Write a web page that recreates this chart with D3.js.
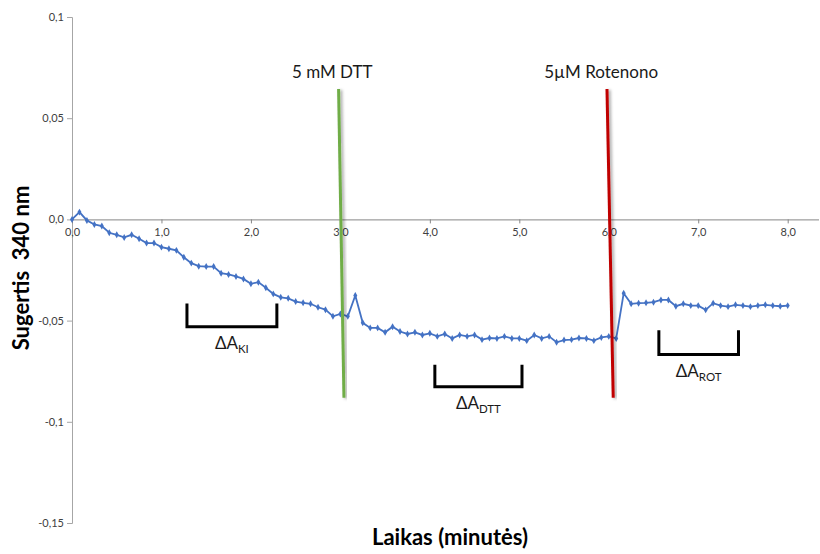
<!DOCTYPE html>
<html>
<head>
<meta charset="utf-8">
<script src="https://cdn.jsdelivr.net/npm/d3@7"></script>
<style>
  html, body { margin: 0; padding: 0; background: #fff; }
  svg text { font-family: Lato, "Open Sans", sans-serif; }
</style>
</head>
<body>
<svg id="chart" width="820" height="554"></svg>
<script>
// Absorbance at 340 nm, one reading every 5 s over 8 minutes
const timeStep = 5 / 60;
const absorbance = [
  0.0000, 0.0036, -0.0005, -0.0025, -0.0033, -0.0066, -0.0076, -0.0089, -0.0076, -0.0096,
  -0.0117, -0.0117, -0.0137, -0.0145, -0.0153, -0.0187, -0.0216, -0.0231, -0.0233, -0.0233,
  -0.0266, -0.0272, -0.0282, -0.0294, -0.0318, -0.0310, -0.0338, -0.0368, -0.0385, -0.0390,
  -0.0406, -0.0412, -0.0417, -0.0434, -0.0446, -0.0479, -0.0467, -0.0479, -0.0376, -0.0511,
  -0.0536, -0.0536, -0.0558, -0.0530, -0.0554, -0.0566, -0.0558, -0.0571, -0.0563, -0.0578,
  -0.0566, -0.0588, -0.0571, -0.0578, -0.0571, -0.0594, -0.0586, -0.0588, -0.0578, -0.0588,
  -0.0588, -0.0599, -0.0571, -0.0588, -0.0578, -0.0607, -0.0596, -0.0594, -0.0586, -0.0588,
  -0.0599, -0.0583, -0.0578, -0.0588, -0.0365, -0.0417, -0.0414, -0.0412, -0.0409, -0.0398,
  -0.0398, -0.0429, -0.0417, -0.0426, -0.0426, -0.0447, -0.0414, -0.0426, -0.0431, -0.0422,
  -0.0426, -0.0431, -0.0426, -0.0422, -0.0426, -0.0429, -0.0426
];
const xTicks = [0, 1, 2, 3, 4, 5, 6, 7, 8];
const yTicks = [0.1, 0.05, 0, -0.05, -0.1, -0.15];

// Reagent additions: label plus the two ends of the marker line (time, value)
const additions = [
  { label: "5 mM DTT",     t0: 2.98, v0: 0.0644, t1: 3.04, v1: -0.0881, color: "#70ad47" },
  { label: "5µM Rotenono", t0: 5.98, v0: 0.0644, t1: 6.05, v1: -0.0881, color: "#c00000" }
];
// Measurement intervals (brackets)
const intervals = [
  { sub: "KI",  t0: 1.285, t1: 2.29, top: -0.0416, bottom: -0.0530 },
  { sub: "DTT", t0: 4.056, t1: 5.03, top: -0.0718, bottom: -0.0827 },
  { sub: "ROT", t0: 6.56,  t1: 7.45, top: -0.0548, bottom: -0.0668 }
];

const svg = d3.select("#chart");
const x = d3.scaleLinear().domain([0, 8.35]).range([72, 819]);
const y = d3.scaleLinear().domain([-0.15, 0.1]).range([523, 17]);
const fmtX = v => v.toFixed(1).replace(".", ",");
const fmtY = v => v === 0 ? "0,0" : String(v).replace(".", ",");

const defs = svg.append("defs");
defs.append("filter").attr("id", "shadow").attr("x", "-50%").attr("y", "-10%").attr("width", "200%").attr("height", "120%")
  .append("feDropShadow").attr("dx", 2).attr("dy", 1).attr("stdDeviation", 1.5)
  .attr("flood-color", "#000").attr("flood-opacity", 0.35);

// Y axis
const yAxis = svg.append("g").attr("transform", `translate(${x(0)},0)`)
  .call(d3.axisLeft(y).tickValues(yTicks).tickSize(5).tickPadding(3).tickFormat(fmtY));
yAxis.select(".domain").attr("stroke", "#a6a6a6");
yAxis.selectAll(".tick line").attr("stroke", "#a6a6a6");
yAxis.selectAll("text").attr("font-size", 11).attr("fill", "#404040");

// X axis along zero
const xAxis = svg.append("g").attr("transform", `translate(0,${y(0)})`)
  .call(d3.axisBottom(x).tickValues(xTicks).tickSize(4).tickPadding(5).tickFormat(fmtX));
xAxis.select(".domain").attr("stroke", "#868686").attr("d", `M${x(0)},0.5H819`);
xAxis.selectAll(".tick line").attr("stroke", "#868686");
xAxis.selectAll("text").attr("font-size", 11).attr("fill", "#404040");

// Series
const pts = absorbance.map((v, i) => [i * timeStep, v]);
svg.append("path").datum(pts)
  .attr("fill", "none").attr("stroke", "#4472c4").attr("stroke-width", 1.8)
  .attr("d", d3.line().x(d => x(d[0])).y(d => y(d[1])));
svg.append("g").selectAll("path").data(pts).join("path")
  .attr("transform", d => `translate(${x(d[0])},${y(d[1])})`)
  .attr("d", d3.symbol(d3.symbolDiamond, 14))
  .attr("fill", "#4472c4");

// Addition markers
additions.forEach(a => {
  svg.append("line")
    .attr("x1", x(a.t0)).attr("y1", y(a.v0)).attr("x2", x(a.t1)).attr("y2", y(a.v1))
    .attr("stroke", a.color).attr("stroke-width", 3).attr("filter", "url(#shadow)");
  svg.append("text").attr("x", (x(a.t0) + x(a.t1)) / 2 - 9).attr("y", 78)
    .attr("text-anchor", "middle").attr("font-size", 17).attr("fill", "#1a1a1a").text(a.label);
});

// Interval brackets with labels
intervals.forEach(b => {
  const x0 = x(b.t0), x1 = x(b.t1), yt = y(b.top), yb = y(b.bottom);
  svg.append("path")
    .attr("d", `M${x0},${yt}V${yb}H${x1}V${yt}`)
    .attr("fill", "none").attr("stroke", "#000").attr("stroke-width", 3);
  const t = svg.append("text").attr("x", (x0 + x1) / 2).attr("y", yb + 22.5)
    .attr("text-anchor", "middle").attr("font-size", 17).attr("fill", "#1a1a1a");
  t.append("tspan").text("ΔA");
  t.append("tspan").attr("font-size", 11.5).attr("dy", 4).text(b.sub);
});

// Axis titles
svg.append("text").attr("transform", "translate(29,268) rotate(-90)")
  .attr("text-anchor", "middle").attr("font-size", 22).attr("font-weight", "bold")
  .attr("fill", "#000").attr("xml:space", "preserve").text("Sugertis  340 nm");
svg.append("text").attr("x", 450).attr("y", 545)
  .attr("text-anchor", "middle").attr("font-size", 22).attr("font-weight", "bold")
  .attr("fill", "#000").text("Laikas (minutės)");
</script>
</body>
</html>
